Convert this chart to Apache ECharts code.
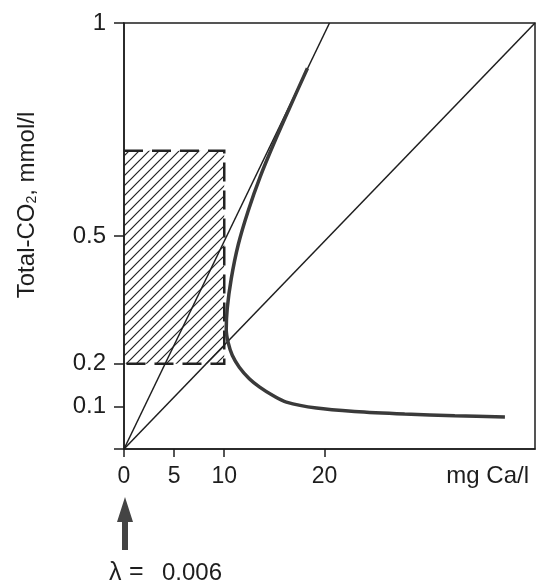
<!DOCTYPE html>
<html>
<head>
<meta charset="utf-8">
<script src="https://cdn.jsdelivr.net/npm/echarts@6/dist/echarts.min.js"></script>
<style>
html,body{margin:0;padding:0;background:#fff;}
#chart{width:536px;height:586px;}
</style>
</head>
<body>
<div id="chart"></div>
<script>
// ---- data ----
const xTicks = [0, 5, 10, 20];
const yTicks = [0, 0.1, 0.2, 0.5, 1];
const yLabels = [0.1, 0.2, 0.5, 1];
const xRange = [0, 41];
const yRange = [0, 1];

// straight lines from origin
const steepLineX = [0, 20.5];
const steepLineY = [0, 1];
const diagLineX = [0, 41];
const diagLineY = [0, 1];

// thick curve
const curveX = [18.3, 16.5, 15.0, 13.6, 12.4, 11.4, 10.7, 10.3, 10.2, 10.4, 10.8, 11.5, 12.5, 13.5, 14.9, 16.2, 19.2, 23.0, 28.0, 33.0, 38.0];
const curveY = [0.894, 0.80, 0.72, 0.64, 0.56, 0.48, 0.40, 0.33, 0.28, 0.249, 0.22, 0.192, 0.165, 0.146, 0.125, 0.110, 0.096, 0.088, 0.082, 0.078, 0.075];

// hatched box
const boxX = [0, 10];
const boxY = [0.2, 0.7];

const yTitle = 'Total-CO{sub|2}, mmol/l';
const xTitle = 'mg Ca/l';
const lambdaParts = ['λ', '=', '0.006'];

// ---- build ----
const FONT = 'Liberation Sans, Arial, Helvetica, sans-serif';
const INK = '#1e1e1e';

function zip(a, b) { return a.map((v, i) => [v, b[i]]); }

// hatch pattern
const pc = document.createElement('canvas');
pc.width = 10; pc.height = 10;
const g = pc.getContext('2d');
g.strokeStyle = '#222';
g.lineWidth = 1.2;
g.beginPath();
g.moveTo(-1, 11); g.lineTo(11, -1);
g.moveTo(-6, 6); g.lineTo(6, -6);
g.moveTo(4, 16); g.lineTo(16, 4);
g.stroke();

const chart = echarts.init(document.getElementById('chart'), null, {renderer: 'canvas'});

const option = {
  animation: false,
  backgroundColor: '#fff',
  grid: {left: 124, right: 1, top: 23, bottom: 137, show: true, borderColor: INK, borderWidth: 1.5, backgroundColor: 'transparent'},
  xAxis: {
    type: 'value', min: xRange[0], max: xRange[1],
    axisLine: {show: true, onZero: false, lineStyle: {color: INK, width: 1.5}},
    axisTick: {show: true, length: 8, customValues: xTicks, lineStyle: {color: INK, width: 1.5}},
    axisLabel: {show: true, customValues: xTicks, fontSize: 23, fontFamily: FONT, color: INK, margin: 16},
    splitLine: {show: false}
  },
  yAxis: {
    type: 'value', min: yRange[0], max: yRange[1],
    axisLine: {show: true, onZero: false, lineStyle: {color: INK, width: 1.5}},
    axisTick: {show: true, length: 10, customValues: yTicks, lineStyle: {color: INK, width: 1.5}},
    axisLabel: {show: true, customValues: yLabels, fontSize: 24, fontFamily: FONT, color: INK, margin: 18,
      formatter: v => String(v)},
    splitLine: {show: false}
  },
  series: [
    {
      type: 'custom',
      renderItem: function (params, api) {
        const p00 = api.coord([boxX[0], boxY[0]]);
        const p11 = api.coord([boxX[1], boxY[1]]);
        const x0 = p00[0], y0 = p00[1], x1 = p11[0], y1 = p11[1];
        return {
          type: 'group',
          children: [
            {type: 'rect', shape: {x: x0, y: y1, width: x1 - x0, height: y0 - y1},
             style: {fill: {image: pc, repeat: 'repeat'}}},
            {type: 'polyline', shape: {points: [[x0, y1], [x1, y1], [x1, y0], [x0, y0]]},
             style: {stroke: '#222', lineWidth: 2.5, lineDash: [19, 9], fill: null}}
          ]
        };
      },
      data: [[boxX[0], boxY[0], boxX[1], boxY[1]]],
      silent: true, z: 1
    },
    {type: 'line', data: zip(steepLineX, steepLineY), symbol: 'none', lineStyle: {color: INK, width: 1.5}, z: 3},
    {type: 'line', data: zip(diagLineX, diagLineY), symbol: 'none', lineStyle: {color: INK, width: 1.5}, z: 3},
    {type: 'line', data: zip(curveX, curveY), symbol: 'none', smooth: 0.3,
     lineStyle: {color: '#3a3a3a', width: 3.5}, z: 4}
  ],
  graphic: [
    {type: 'text', x: 27, y: 205, rotation: Math.PI / 2,
     style: {text: yTitle, fontSize: 24, fontFamily: FONT, fill: INK, align: 'center', verticalAlign: 'middle',
       rich: {sub: {fontSize: 14, fontFamily: FONT, fill: INK, verticalAlign: 'bottom'}}}},
    {type: 'text', x: 529, y: 476,
     style: {text: xTitle, fontSize: 24, fontFamily: FONT, fill: INK, align: 'right', verticalAlign: 'middle'}},
    {type: 'polygon', shape: {points: [[125, 497], [133, 522], [128, 522], [128, 550], [122, 550], [122, 522], [117, 522]]},
     style: {fill: '#444'}},
    {type: 'text', x: 109, y: 573,
     style: {text: lambdaParts[0], fontSize: 25, fontFamily: FONT, fill: INK, align: 'left', verticalAlign: 'middle'}},
    {type: 'text', x: 129, y: 572,
     style: {text: lambdaParts[1], fontSize: 25, fontFamily: FONT, fill: INK, align: 'left', verticalAlign: 'middle'}},
    {type: 'text', x: 162, y: 573,
     style: {text: lambdaParts[2], fontSize: 24, fontFamily: FONT, fill: INK, align: 'left', verticalAlign: 'middle'}}
  ]
};
chart.setOption(option);
</script>
</body>
</html>
